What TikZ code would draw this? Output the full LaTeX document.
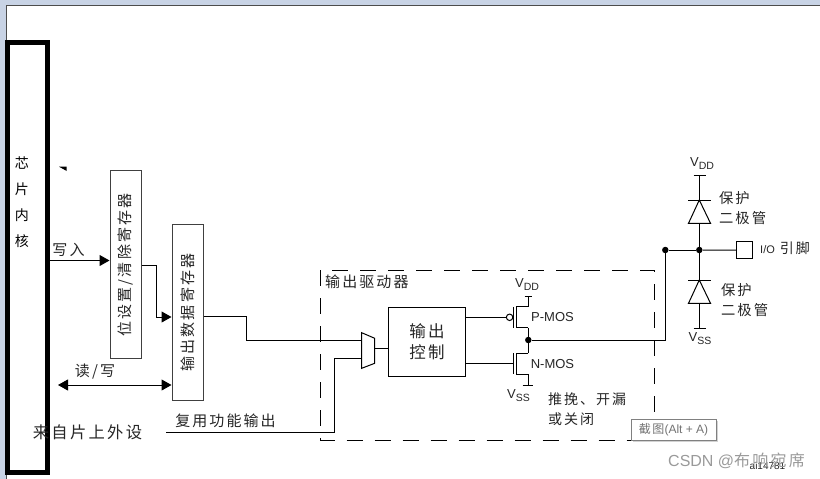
\documentclass[tikz,border=0pt]{standalone}
\usepackage{fontspec}
\usepackage{xcolor}
\setmainfont{Liberation Sans}
\newfontfamily\cjk[LetterSpace=14]{Noto Sans CJK SC}
\usetikzlibrary{arrows.meta,shadows}
\definecolor{frame}{HTML}{C8D3E5}
\definecolor{ink}{HTML}{262626}
\definecolor{mark}{HTML}{9A9A9A}
\tikzset{
  wire/.style={draw=black,line width=1pt},
  sigarrow/.style={wire,-{Triangle[length=10pt,width=11pt]}},
  regbox/.style={draw=black!75,line width=1pt,minimum width=31pt,inner sep=0pt},
  cjktext/.style={font=\cjk\fontsize{15}{20}\selectfont,text=ink,inner sep=0pt,align=left},
  cjknote/.style={cjktext,font=\cjk\fontsize{14.3}{20}\selectfont},
  corechar/.style={cjktext,font=\cjk\fontsize{14}{15}\selectfont,text=black},
  vlabel/.style={cjktext,rotate=90},
  latin/.style={font=\fontsize{13}{15}\selectfont,text=ink,inner sep=0pt},
  junction/.style={circle,fill=black,minimum size=6.5pt,inner sep=0pt},
}
\newcommand{\railname}[1]{V\raisebox{-3pt}{\fontsize{10.5}{12}\selectfont #1}}
\newcommand{\diodeat}[2]{%
  \draw[wire] (688,#2) -- (710.5,#2);
  \draw[wire] (699.3,#2) -- (688.5,#2+23.3) -- (710.5,#2+23.3) -- cycle;
  \coordinate (#1top) at (699.3,#2);
  \coordinate (#1bot) at (699.3,#2+23.3);
}
\newcommand{\mosat}[2]{%
  \draw[wire] (528.3,#2) -- (516.7,#2) -- (516.7,#2+21) -- (528.3,#2+21);
  \draw[wire] (513.3,#2) -- (513.3,#2+21);
  \coordinate (#1top) at (528.3,#2);
  \coordinate (#1bot) at (528.3,#2+21);
  \coordinate (#1gate) at (513.3,#2+10.5);
}
\begin{document}
\begin{tikzpicture}[x=1pt,y=-1pt]
  \useasboundingbox (0,0) rectangle (820,479);
  % window edge
  \fill[frame] (0,0) rectangle (820,479);
  \fill[white] (6,5) rectangle (820,479);
  \draw[black!70,line width=1pt] (6,479) -- (6,5) -- (820,5);

  % core
  \node[draw=black,line width=5pt,minimum width=39.5pt,minimum height=430pt,inner sep=0pt] (core) at (27.7,257.5) {};
  \node[corechar] (coreA) at (22,163) {芯};
  \node[corechar] (coreB) at (22,189) {片};
  \node[corechar] (coreC) at (22,215) {内};
  \node[corechar] (coreD) at (22,241) {核};
  \fill[black] (59,166.7) -- (66.7,166.7) -- (66.7,171) -- cycle;

  % registers
  \node[regbox,minimum height=188pt] (setreg) at (125.5,264) {};
  \node[regbox,minimum height=176pt] (outreg) at (187.5,312) {};
  \node[vlabel] (setlabel) at (125.5,265) {位设置/清除寄存器};
  \node[vlabel] (outlabel) at (187.5,312.5) {输出数据寄存器};

  % write and read
  \coordinate (wr) at (core.east |- 0,260.5);
  \draw[sigarrow] (wr) -- (wr -| setreg.west);
  \node[cjktext] (wrlabel) at (68.5,249.5) {写入};
  \coordinate (setout) at (setreg.east |- 0,265.5);
  \coordinate (outin) at (outreg.west |- 0,317);
  \draw[sigarrow] (setout) -- (156,265.5) -- (156,317) -- (outin);
  \coordinate (rdleft) at (58,385);
  \draw[wire,{Triangle[length=10pt,width=11pt]}-{Triangle[length=10pt,width=11pt]}] (rdleft) -- (rdleft -| outreg.west);
  \node[cjktext] (rdlabel) at (95,372) {读/写};

  % driver box
  \draw[black,line width=1pt,dash pattern=on 16pt off 12pt] (320.7,270) rectangle (654.3,440);
  \node[cjktext,anchor=west] (drvlabel) at (325,282) {输出驱动器};

  % mux and control
  \draw[wire,fill=white] (361.7,332.7) -- (374.7,338.3) -- (374.7,363.3) -- (361.7,368.3) -- cycle;
  \coordinate (muxa) at (361.7,340.7);
  \coordinate (muxb) at (361.7,358.3);
  \coordinate (muxout) at (374.7,348.7);
  \node[draw=black,line width=1.2pt,minimum width=77.4pt,minimum height=68.6pt,inner sep=0pt] (ctrl) at (427,342) {};
  \node[cjktext,font=\cjk\fontsize{16.5}{21}\selectfont,align=center] (ctrllabel) at (427,341.5) {输出\\控制};
  \coordinate (outregout) at (outreg.east |- 0,316);
  \draw[wire] (outregout) -- (246,316) -- (246,340.7) -- (muxa);
  \draw[wire] (muxout) -- (muxout -| ctrl.west);
  \coordinate (altin) at (166,432);
  \draw[wire] (altin) -- (334,432) -- (334,358.3) -- (muxb);
  \node[cjktext] (altlabel) at (225.5,421) {复用功能输出};
  \node[cjktext,font=\cjk\fontsize{16.3}{18}\selectfont] (perilabel) at (87.5,432) {来自片上外设};

  % mos pair
  \mosat{pm}{306.8}
  \mosat{nm}{353.2}
  \node[circle,draw=black,line width=1pt,minimum size=6.5pt,inner sep=0pt] (bubble) at (509.6,317.3) {};
  \draw[wire] (ctrl.east |- bubble) -- (bubble);
  \draw[wire] (bubble) -- (pmgate);
  \draw[wire] (ctrl.east |- nmgate) -- (nmgate);
  \node[junction] (drain) at (528.3,340) {};
  \draw[wire] (pmbot) -- (drain);
  \draw[wire] (drain) -- (nmtop);
  \coordinate (pmcap) at (528.3,296.7);
  \coordinate (nmcap) at (528.3,385);
  \draw[wire] (pmtop) -- (pmcap);
  \draw[wire] (nmbot) -- (nmcap);
  \draw[wire] (524.5,296.7) -- (532,296.7);
  \draw[wire] (522.5,385) -- (533,385);
  \node[latin] (pmlabel) at (552.5,317) {P-MOS};
  \node[latin] (nmlabel) at (552.5,364.5) {N-MOS};
  \node[latin] (pmrail) at (527,285) {\railname{DD}};
  \node[latin] (nmrail) at (518.5,396) {\railname{SS}};
  \node[cjknote,font=\cjk\fontsize{14}{20}\selectfont,anchor=north west] (modelabel) at (548,393) {推挽、开漏\\或关闭};

  % pin and diodes
  \node[junction] (tap) at (665.3,250) {};
  \node[junction] (mid) at (699.3,250) {};
  \node[draw=black,line width=1pt,minimum width=16.4pt,minimum height=17.3pt,inner sep=0pt] (pin) at (744.5,250.3) {};
  \draw[wire] (drain) -- (665.3,340) -- (tap);
  \draw[wire] (tap) -- (mid);
  \draw[wire] (mid) -- (pin);
  \node[font=\cjk\fontsize{14}{15}\selectfont,text=ink,inner sep=0pt,anchor=west] (pinlabel) at (760,248.5) {{\fontspec{Liberation Sans}\fontsize{11}{12}\selectfont I/O}\hspace{5pt}引脚};
  \diodeat{up}{200}
  \diodeat{dn}{280}
  \coordinate (upcap) at (699.3,175);
  \coordinate (dncap) at (699.3,328);
  \draw[wire] (upcap) -- (uptop);
  \draw[wire] (upbot) -- (mid);
  \draw[wire] (mid) -- (dntop);
  \draw[wire] (dnbot) -- (dncap);
  \draw[wire] (693.5,175) -- (706,175);
  \draw[wire] (693.5,328) -- (706,328);
  \node[latin] (uprail) at (702,164) {\railname{DD}};
  \node[latin] (dnrail) at (700,339) {\railname{SS}};
  \node[cjknote,anchor=north west] (uplabel) at (719,191) {保护\\二极管};
  \node[cjknote,anchor=north west] (dnlabel) at (721,283) {保护\\二极管};

  % overlays
  \node[font=\fontsize{10}{12}\selectfont,text=ink,inner sep=0pt] (partno) at (767.5,466) {ai14781};
  \node[font=\cjk\fontsize{16}{18}\selectfont,text=mark,inner sep=0pt,anchor=west] (watermark) at (668,461) {{\fontspec{Liberation Sans}CSDN @}布响宛席};
  \node[draw=black!50,fill=white,line width=1pt,minimum width=85pt,minimum height=21pt,inner sep=0pt,
    drop shadow={shadow xshift=2pt,shadow yshift=-2pt,fill=black!35},
    font=\cjk\fontsize{12}{14}\selectfont,text=black!55] (tooltip) at (673.5,429.5) {截图{\fontspec{Liberation Sans}(Alt + A)}};
\end{tikzpicture}
\end{document}
